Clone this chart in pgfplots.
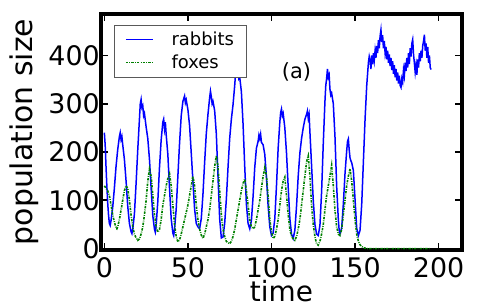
\documentclass[border=0pt]{standalone}
\usepackage{pgfplots}
\pgfplotsset{compat=1.18}
\usepackage{fontspec}
\setmainfont{DejaVu Sans}
\definecolor{mplblue}{rgb}{0,0,1}
\definecolor{mplgreen}{rgb}{0,0.5,0}
\begin{document}
\begin{tikzpicture}
\begin{axis}[
  scale only axis,
  width=361bp, height=236bp,
  xmin=-2, xmax=214, ymin=-3, ymax=486,
  xtick={0,50,100,150,200},
  xticklabels={0,50,100,150,200},
  ytick={0,100,200,300,400},
  yticklabels={0,100,200,300,400},
  tick align=inside,
  major tick length=7bp,
  every tick/.style={black, line width=1.6bp},
  axis line style={line width=3.2bp},
  tick label style={font=\fontsize{27}{32}\selectfont},
  xticklabel style={inner sep=0pt, yshift=-7bp},
  yticklabel style={inner sep=0pt, xshift=-1bp},
  xlabel={time},
  ylabel={population size},
  xlabel style={font=\fontsize{28}{34}\selectfont, at={(axis description cs:0.5,0)}, anchor=base, yshift=-51bp},
  ylabel style={font=\fontsize{30}{36}\selectfont, at={(axis description cs:0,0.5)}, anchor=base, yshift=68bp},
  legend style={at={(axis description cs:0.035,0.955)}, anchor=north west,
    draw=black!65, line width=0.7bp, fill=white, font=\fontsize{18}{21}\selectfont,
    inner xsep=11bp, inner ysep=6bp, row sep=6bp, column sep=17bp,
    nodes={inner sep=1bp}},
  legend cell align=left,
  legend image code/.code={\draw[#1] (0bp,0bp) -- (27bp,0bp);},
  clip=true,
]
\addplot[mplblue, line width=1.5bp] coordinates {
(0,240)(0.5,215)(1,170)(1.5,130)(2,95)(2.5,70)(3,52)(3.5,48)(4,58)(5,85)(6,125)(7,170)(8,205)(9,232)(9.5,240)(10,226)(10.5,232)(11,215)(12,185)(13,140)(14,88)(15,52)(16,35)(16.5,31)(17,40)(18,72)(19,135)(20,205)(21,268)(21.5,300)(22,309)(22.5,292)(23,296)(23.5,275)(24,280)(25,252)(26,228)(27,185)(28,125)(29,68)(30,40)(30.5,34)(31,48)(32,98)(33,168)(34,225)(35,262)(35.5,268)(36,248)(36.5,262)(37,236)(38,195)(39,125)(40,62)(41,32)(41.5,27)(42,40)(43,82)(44,150)(45,218)(46,275)(47,305)(48,316)(48.5,302)(49,308)(50,288)(51,255)(52,198)(53,140)(54,82)(55,52)(56,45)(57,41)(58,62)(59,112)(60,178)(61,238)(62,278)(63,312)(63.5,326)(64,315)(64.5,300)(65,305)(66,286)(67,238)(68,150)(69,62)(70,22)(71,24)(72,52)(73,102)(74,168)(75,228)(76,268)(77,298)(78,338)(78.5,362)(79,385)(79.5,372)(80,375)(80.5,352)(81,355)(82,325)(83,258)(84,170)(85,92)(86,52)(87,41)(88,58)(89,108)(90,168)(91,208)(92,222)(92.5,235)(93,228)(93.5,237)(94,220)(95,215)(96,195)(97,148)(98,88)(99,45)(100,27)(101,32)(102,62)(103,130)(104,208)(105,262)(105.5,282)(106,289)(106.5,275)(107,280)(108,250)(109,198)(110,128)(111,62)(112,30)(113,21)(114,38)(115,88)(116,150)(117,198)(118,228)(119,250)(120,268)(121,278)(121.5,285)(122,270)(122.5,278)(123,242)(124,172)(125,100)(126,50)(127,30)(128,27)(129,48)(130,118)(131,218)(132,305)(132.5,338)(133,352)(133.5,372)(134,355)(134.5,360)(135,330)(135.5,318)(136,322)(137,300)(138,232)(139,130)(140,60)(140.5,38)(141,31)(142,42)(143,92)(144,155)(145,202)(145.5,222)(146,227)(146.5,205)(147,188)(147.5,182)(148,178)(149,162)(150,102)(151,42)(152,27)(153,38)(154,92)(155,180)(156,268)(157,338)(158,385)(158.5,398)
(159,390)(159.5,372)(160,400)(160.5,382)(161,405)(161.5,390)(162,410)(162.5,395)(163,420)(163.5,405)(164,432)(164.5,415)(165,440)(165.5,453)(166,428)(166.5,442)(167,415)(167.5,430)(168,405)(168.5,418)(169,392)(169.5,410)(170,385)(170.5,402)(171,378)(171.5,395)(172,370)(172.5,388)(173,362)(173.5,380)(174,355)(174.5,372)(175,348)(175.5,365)(176,342)(176.5,358)(177,338)(177.5,334)(178,352)(178.5,345)(179,370)(179.5,358)(180,385)(180.5,368)(181,395)(181.5,375)(182,405)(182.5,382)(183,415)(183.5,398)(184,425)(184.5,433)(185,402)(185.5,385)(186,365)(186.5,380)(187,360)(187.5,392)(188,375)(188.5,405)(189,388)(189.5,410)(190,395)(190.5,420)(191,430)(191.5,443)(192,410)(192.5,425)(193,395)(193.5,418)(194,385)(194.5,400)(195,375)(195.5,371)
};
\addlegendentry{rabbits}
\addplot[mplgreen, line width=1.6bp, dash pattern=on 2.4bp off 1.2bp on 0.8bp off 1.2bp] coordinates {
(0,130)(1,125)(2,120)(3,110)(4,90)(5,70)(6,55)(7,43)(7.5,41)(8,45)(9,60)(10,80)(11,100)(12,120)(13,130)(14,125)(15,100)(16,70)(17,45)(18,30)(19,22)(20,17)(21,20)(22,30)(23,45)(24,70)(25,100)(26,140)(27,165)(28,150)(29,110)(30,70)(31,45)(32,34)(33,40)(34,60)(35,90)(36,110)(37,130)(38,145)(39,155)(40,130)(41,90)(42,50)(43,25)(44,14)(45,18)(46,30)(47,45)(48,60)(49,75)(50,90)(51,110)(52,130)(53,150)(54,130)(55,90)(56,60)(57,40)(58,28)(59,21)(60,30)(61,45)(62,60)(63,80)(64,110)(65,140)(66,170)(67,192)(68,170)(69,120)(70,70)(71,40)(72,25)(73,15)(74,12)(75,10)(76,15)(77,25)(78,40)(79,60)(80,80)(81,100)(82,120)(83,135)(84,144)(85,120)(86,90)(87,60)(88,45)(89,41)(90,45)(91,60)(92,80)(93,100)(94,125)(95,150)(96,168)(97,150)(98,110)(99,60)(100,35)(101,21)(102,25)(103,40)(104,60)(105,90)(106,120)(107,140)(108,148)(109,110)(110,70)(111,40)(112,25)(113,20)(114,17)(115,25)(116,40)(117,60)(118,90)(119,120)(120,150)(121,180)(122,192)(123,150)(124,90)(125,50)(126,25)(127,10)(128,7)(129,15)(130,30)(131,50)(132,80)(133,110)(134,130)(135,150)(136,172)(137,130)(138,80)(139,45)(140,30)(141,27)(142,40)(143,70)(144,100)(145,130)(146,150)(147,165)(148,140)(149,100)(150,60)(151,30)(152,15)(153,8)(154,4)(155,2)(156,1)(157,0)(165,0)(175,0)(185,0)(195,0)
};
\addlegendentry{foxes}
\node[font=\fontsize{21}{25}\selectfont] at (axis cs:115,365) {(a)};
\end{axis}
\path (current axis.south west) ++(-101bp,-58bp) coordinate (bbA);
\path (current axis.north east) ++(23bp,14bp) coordinate (bbB);
\pgfresetboundingbox
\path[use as bounding box] (bbA) rectangle (bbB);
\end{tikzpicture}
\end{document}
